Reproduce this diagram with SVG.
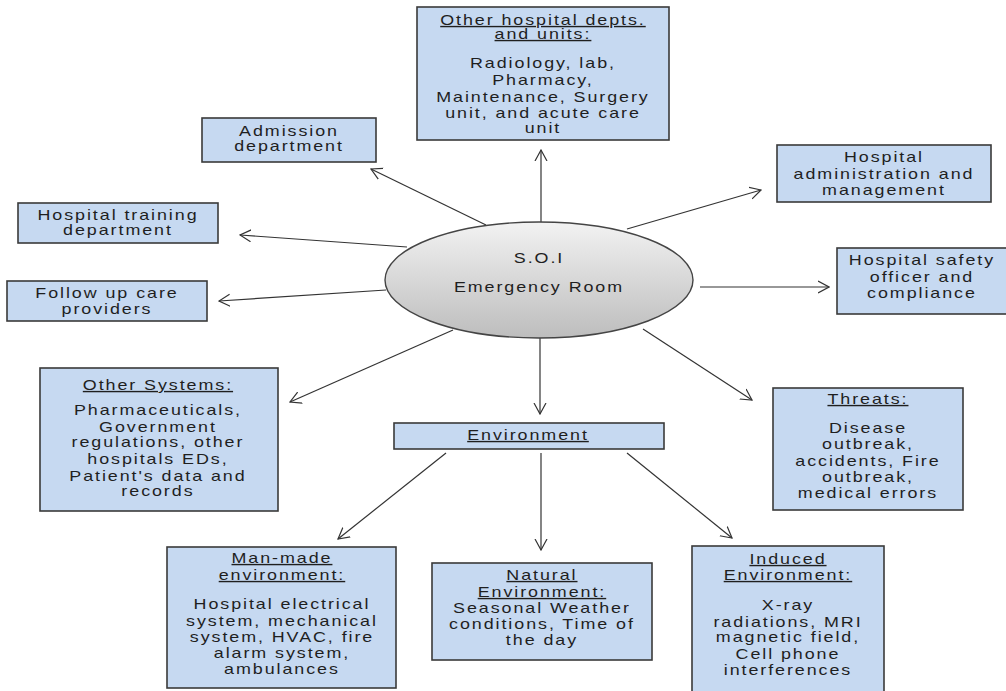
<svg xmlns="http://www.w3.org/2000/svg" width="1006" height="691" viewBox="0 0 1006 691">
<style>
.box{fill:#c6d9f1;stroke:#3a3a3a;stroke-width:1.6}
.t{font-family:"Liberation Sans",Arial,sans-serif;font-size:14px;letter-spacing:1.5px;text-anchor:middle;fill:#1f1f1f}
.u{text-decoration:underline}
.c{fill:none;stroke:#333;stroke-width:1.2;marker-end:url(#arr)}
</style>
<defs>
<marker id="arr" markerUnits="userSpaceOnUse" markerWidth="12" markerHeight="14" refX="11" refY="6" orient="auto" viewBox="0 0 12 12">
<path d="M0,0 L11,6 L0,12" fill="none" stroke="#333" stroke-width="1.2"/>
</marker>
<linearGradient id="eg" x1="0" y1="0" x2="0" y2="1">
<stop offset="0" stop-color="#f2f2f2"/>
<stop offset="1" stop-color="#bdbdbd"/>
</linearGradient>
</defs>
<rect width="1006" height="691" fill="#fff"/>
<g id="connectors">
<line class="c" x1="541" y1="222" x2="541" y2="150"/>
<line class="c" x1="486" y1="225" x2="371" y2="169"/>
<line class="c" x1="407" y1="247" x2="240" y2="235"/>
<line class="c" x1="386" y1="290" x2="219" y2="301"/>
<line class="c" x1="453" y1="330" x2="290" y2="402"/>
<line class="c" x1="540" y1="338" x2="540" y2="414"/>
<line class="c" x1="643" y1="329" x2="752" y2="400"/>
<line class="c" x1="700" y1="287" x2="829" y2="287"/>
<line class="c" x1="627" y1="229" x2="761" y2="190"/>
<line class="c" x1="446" y1="453" x2="338" y2="539"/>
<line class="c" x1="541" y1="453" x2="541" y2="550"/>
<line class="c" x1="627" y1="453" x2="732" y2="538"/>
</g>
<g id="soi">
<ellipse cx="539" cy="280" rx="154" ry="58" fill="url(#eg)" stroke="#444" stroke-width="1.4"/>
<g transform="scale(1.28,1)">
<text class="t" x="421.1" y="263">S.O.I</text>
<text class="t" x="421.1" y="292">Emergency Room</text>
</g>
</g>
<g id="other-depts">
<rect class="box" x="417" y="7" width="252" height="133"/>
<g transform="scale(1.28,1)">
<text class="t u" x="424.2" y="25">Other hospital depts.</text>
<text class="t u" x="424.2" y="39">and units:</text>
<text class="t" x="424.2" y="68">Radiology, lab,</text>
<text class="t" x="424.2" y="85">Pharmacy,</text>
<text class="t" x="424.2" y="102">Maintenance, Surgery</text>
<text class="t" x="424.2" y="118">unit, and acute care</text>
<text class="t" x="424.2" y="133">unit</text>
</g>
</g>
<g id="admission">
<rect class="box" x="202" y="118" width="174" height="44"/>
<g transform="scale(1.28,1)">
<text class="t" x="225.8" y="136">Admission</text>
<text class="t" x="225.8" y="151">department</text>
</g>
</g>
<g id="training">
<rect class="box" x="18" y="203" width="200" height="40"/>
<g transform="scale(1.28,1)">
<text class="t" x="92.2" y="220">Hospital training</text>
<text class="t" x="92.2" y="235">department</text>
</g>
</g>
<g id="followup">
<rect class="box" x="7" y="281" width="200" height="40"/>
<g transform="scale(1.28,1)">
<text class="t" x="83.6" y="298">Follow up care</text>
<text class="t" x="83.6" y="314">providers</text>
</g>
</g>
<g id="admin">
<rect class="box" x="777" y="145" width="214" height="57"/>
<g transform="scale(1.28,1)">
<text class="t" x="690.6" y="162">Hospital</text>
<text class="t" x="690.6" y="179">administration and</text>
<text class="t" x="690.6" y="195">management</text>
</g>
</g>
<g id="safety">
<rect class="box" x="837" y="248" width="175" height="66"/>
<g transform="scale(1.28,1)">
<text class="t" x="720.3" y="265">Hospital safety</text>
<text class="t" x="720.3" y="282">officer and</text>
<text class="t" x="720.3" y="298">compliance</text>
</g>
</g>
<g id="threats">
<rect class="box" x="773" y="388" width="190" height="122"/>
<g transform="scale(1.28,1)">
<text class="t u" x="678.1" y="404">Threats:</text>
<text class="t" x="678.1" y="433">Disease</text>
<text class="t" x="678.1" y="449">outbreak,</text>
<text class="t" x="678.1" y="466">accidents, Fire</text>
<text class="t" x="678.1" y="482">outbreak,</text>
<text class="t" x="678.1" y="498">medical errors</text>
</g>
</g>
<g id="other-systems">
<rect class="box" x="40" y="368" width="238" height="143"/>
<g transform="scale(1.28,1)">
<text class="t u" x="123.4" y="390">Other Systems:</text>
<text class="t" x="123.4" y="415">Pharmaceuticals,</text>
<text class="t" x="123.4" y="432">Government</text>
<text class="t" x="123.4" y="447">regulations, other</text>
<text class="t" x="123.4" y="464">hospitals EDs,</text>
<text class="t" x="123.4" y="481">Patient's data and</text>
<text class="t" x="123.4" y="496">records</text>
</g>
</g>
<g id="environment">
<rect class="box" x="394" y="423" width="270" height="26"/>
<g transform="scale(1.28,1)">
<text class="t u" x="412.5" y="440">Environment</text>
</g>
</g>
<g id="man-made">
<rect class="box" x="167" y="547" width="229" height="141"/>
<g transform="scale(1.28,1)">
<text class="t u" x="220.3" y="563">Man-made</text>
<text class="t u" x="220.3" y="580">environment:</text>
<text class="t" x="220.3" y="609">Hospital electrical</text>
<text class="t" x="220.3" y="626">system, mechanical</text>
<text class="t" x="220.3" y="642">system, HVAC, fire</text>
<text class="t" x="220.3" y="658">alarm system,</text>
<text class="t" x="220.3" y="674">ambulances</text>
</g>
</g>
<g id="natural">
<rect class="box" x="432" y="563" width="220" height="97"/>
<g transform="scale(1.28,1)">
<text class="t u" x="423.4" y="580">Natural</text>
<text class="t u" x="423.4" y="597">Environment:</text>
<text class="t" x="423.4" y="613">Seasonal Weather</text>
<text class="t" x="423.4" y="629">conditions, Time of</text>
<text class="t" x="423.4" y="645">the day</text>
</g>
</g>
<g id="induced">
<rect class="box" x="692" y="546" width="192" height="150"/>
<g transform="scale(1.28,1)">
<text class="t u" x="615.6" y="564">Induced</text>
<text class="t u" x="615.6" y="580">Environment:</text>
<text class="t" x="615.6" y="610">X-ray</text>
<text class="t" x="615.6" y="627">radiations, MRI</text>
<text class="t" x="615.6" y="642">magnetic field,</text>
<text class="t" x="615.6" y="659">Cell phone</text>
<text class="t" x="615.6" y="675">interferences</text>
</g>
</g>
</svg>
